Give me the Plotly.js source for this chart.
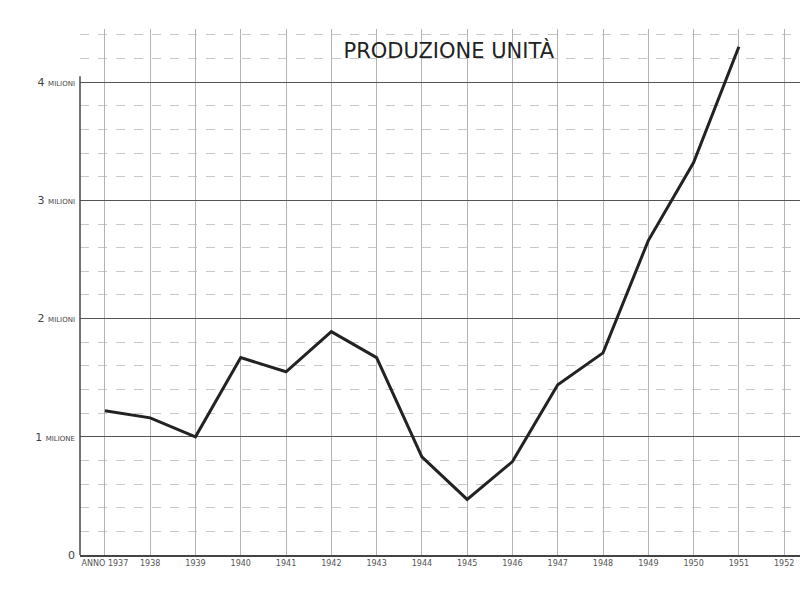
<!DOCTYPE html>
<html>
<head>
<meta charset="utf-8">
<script src="https://cdn.plot.ly/plotly-3.0.1.min.js"></script>
<style>html,body{margin:0;padding:0;background:#fff;}#chart{width:800px;height:592px;}</style>
</head>
<body>
<div id="chart"></div>
<script>
// Data (production, millions of units)
const years = [1937, 1938, 1939, 1940, 1941, 1942, 1943, 1944, 1945, 1946, 1947, 1948, 1949, 1950, 1951];
const production = [1.22, 1.16, 1.00, 1.67, 1.55, 1.89, 1.67, 0.83, 0.47, 0.79, 1.44, 1.71, 2.66, 3.32, 4.30];

const xTickVals = [1937, 1938, 1939, 1940, 1941, 1942, 1943, 1944, 1945, 1946, 1947, 1948, 1949, 1950, 1951, 1952];
const xTickText = ["ANNO 1937", "1938", "1939", "1940", "1941", "1942", "1943", "1944", "1945", "1946", "1947", "1948", "1949", "1950", "1951", "1952"];
const yTickVals = [0, 1, 2, 3, 4];
const yTickText = ["0", "1 <span style='font-size:7px'>MILIONE</span>", "2 <span style='font-size:7px'>MILIONI</span>",
                   "3 <span style='font-size:7px'>MILIONI</span>", "4 <span style='font-size:7px'>MILIONI</span>"];

const trace = {
  x: years, y: production, type: 'scatter', mode: 'lines',
  line: {color: '#222', width: 3}, hoverinfo: 'skip'
};

const layout = {
  width: 800, height: 592,
  margin: {l: 80, r: 0, t: 29, b: 37},
  paper_bgcolor: '#fff', plot_bgcolor: '#fff',
  showlegend: false,
  font: {family: 'DejaVu Sans, sans-serif', color: '#444'},
  title: {
    text: "PRODUZIONE UNITÀ",
    font: {family: 'DejaVu Sans, sans-serif', size: 21, color: '#222'},
    x: 0.561, xanchor: 'center', y: 0.915, yanchor: 'middle'
  },
  xaxis: {
    range: [1936.45, 1952.35],
    tickvals: xTickVals, ticktext: xTickText,
    tickfont: {size: 8, color: '#555'},
    showgrid: true, gridcolor: '#b4b4b4', gridwidth: 1,
    showline: true, linecolor: '#444', linewidth: 1.5,
    ticks: '', zeroline: false, fixedrange: true
  },
  yaxis: {
    range: [0, 4.45],
    tickvals: yTickVals, ticktext: yTickText,
    tickfont: {size: 11, color: '#444'},
    ticklabelstandoff: 4,
    showgrid: true, gridcolor: '#555', gridwidth: 1.2,
    minor: {dtick: 0.2, showgrid: true, gridcolor: '#c8c8c8', gridwidth: 1, griddash: 'dash'},
    showline: false,
    ticks: '', zeroline: false, fixedrange: true
  },
  shapes: [
    {type: 'line', xref: 'paper', yref: 'y', x0: 0, x1: 0, y0: 0, y1: 4.05,
     line: {color: '#444', width: 1.5}}
  ]
};

Plotly.newPlot('chart', [trace], layout, {displayModeBar: false, staticPlot: true});
</script>
</body>
</html>
